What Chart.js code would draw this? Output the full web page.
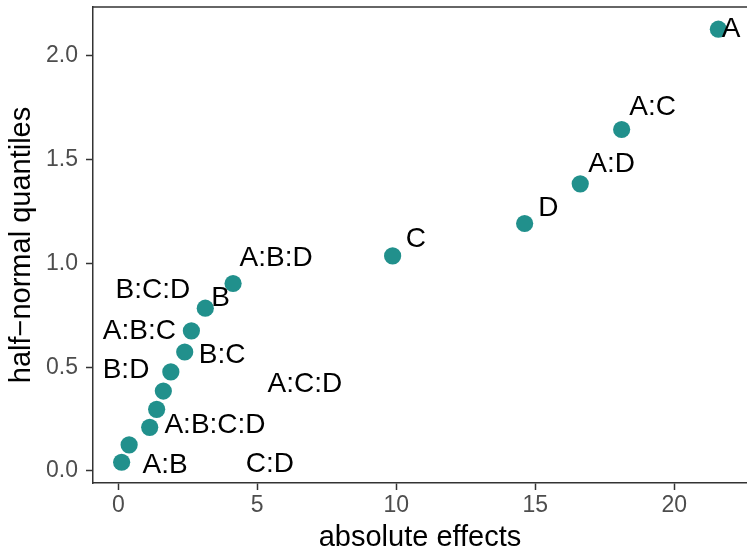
<!DOCTYPE html>
<html>
<head>
<meta charset="utf-8">
<script src="https://cdn.jsdelivr.net/npm/chart.js@4.4.1/dist/chart.umd.min.js"></script>
<style>
  html, body { margin: 0; padding: 0; background: #ffffff; }
  #wrap { width: 747px; height: 550px; }
</style>
</head>
<body>
<div id="wrap"><canvas id="halfnorm" width="747" height="550"></canvas></div>
<script>
// effects of the 2^4 design, smallest to largest
var effectNames = ["C:D", "A:B", "A:B:C:D", "A:C:D", "B:D", "B:C", "A:B:C", "B:C:D",
                   "B", "A:B:D", "C", "D", "A:D", "A:C", "A"];
var absEffects  = [0.12, 0.39, 1.13, 1.38, 1.62, 1.89, 2.39, 2.63,
                   3.13, 4.13, 9.87, 14.62, 16.62, 18.11, 21.59];
var hnQuantiles = [0.042, 0.126, 0.210, 0.297, 0.385, 0.477, 0.573, 0.675,
                   0.784, 0.903, 1.036, 1.192, 1.383, 1.645, 2.128];
var xTicks = [0, 5, 10, 15, 20];
var yTicks = [0, 0.5, 1, 1.5, 2];

// where each name sits relative to its point (px), repel-style
var labelNudge = [
    [148.3, 1.6], [36, 20], [65.3, -1.7], [148.3, -25], [-37.3, -20.7], [51.3, -16.7],
    [-45.4, -21], [-38.6, -41], [15.4, -10.4], [43.1, -25.2], [23.3, -16.9],
    [23.6, -15.7], [31.4, -20], [31, -21.7], [12.7, -0.3]
];

var points = [];
for (var i = 0; i < absEffects.length; i++) {
    points.push({x: absEffects[i], y: hnQuantiles[i]});
}

var FONT = "'Liberation Sans', Arial, Helvetica, sans-serif";
var INK = "#333333";

var effectLabels = {
    id: "effectLabels",
    afterDatasetsDraw: function (chart) {
        var ctx = chart.ctx;
        var meta = chart.getDatasetMeta(0);
        ctx.save();
        ctx.font = "28px " + FONT;
        ctx.fillStyle = "#000000";
        ctx.textAlign = "center";
        ctx.textBaseline = "middle";
        meta.data.forEach(function (pt, i) {
            ctx.fillText(effectNames[i], pt.x + labelNudge[i][0], pt.y + labelNudge[i][1]);
        });
        ctx.restore();
    }
};

// top edge of the panel box
var topRule = {
    id: "topRule",
    afterDraw: function (chart) {
        var a = chart.chartArea;
        var ctx = chart.ctx;
        ctx.save();
        ctx.strokeStyle = INK;
        ctx.lineWidth = 1.5;
        ctx.beginPath();
        ctx.moveTo(a.left - 0.75, a.top);
        ctx.lineTo(a.right, a.top);
        ctx.stroke();
        ctx.restore();
    }
};

new Chart(document.getElementById("halfnorm").getContext("2d"), {
    type: "scatter",
    data: {
        datasets: [{
            data: points,
            backgroundColor: "#21908C",
            borderWidth: 0,
            pointRadius: 8.6,
            pointHoverRadius: 8.6
        }]
    },
    options: {
        responsive: false,
        animation: false,
        layout: { autoPadding: false, padding: { top: 7, right: 0, bottom: 0, left: 0 } },
        plugins: { legend: { display: false }, tooltip: { enabled: false } },
        scales: {
            x: {
                type: "linear",
                min: -0.91,
                max: 22.62,
                afterFit: function (s) {
                    s.height = 67;
                    s.paddingLeft = 0;
                    s.paddingRight = 0;
                },
                afterBuildTicks: function (s) {
                    s.ticks = xTicks.map(function (v) { return {value: v}; });
                },
                grid: { drawOnChartArea: false, drawTicks: true, tickLength: 7, tickColor: INK, tickWidth: 1.5 },
                border: { display: true, color: INK, width: 1.5 },
                ticks: {
                    color: "#4D4D4D",
                    padding: 2,
                    font: { family: FONT, size: 23 },
                    callback: function (v) { return String(v); }
                },
                title: {
                    display: true,
                    text: "absolute effects",
                    color: "#000000",
                    font: { family: FONT, size: 29, lineHeight: 1.0 },
                    padding: { top: 0, bottom: -2 }
                }
            },
            y: {
                type: "linear",
                min: -0.058,
                max: 2.235,
                afterFit: function (s) {
                    s.width = 93;
                    s.paddingTop = 0;
                    s.paddingBottom = 0;
                },
                afterBuildTicks: function (s) {
                    s.ticks = yTicks.map(function (v) { return {value: v}; });
                },
                grid: { drawOnChartArea: false, drawTicks: true, tickLength: 7, tickColor: INK, tickWidth: 1.5 },
                border: { display: true, color: INK, width: 1.5 },
                ticks: {
                    color: "#4D4D4D",
                    padding: 8,
                    font: { family: FONT, size: 23 },
                    callback: function (v) { return v.toFixed(1); }
                },
                title: {
                    display: true,
                    text: "half\u2212normal quantiles",
                    color: "#000000",
                    font: { family: FONT, size: 29, lineHeight: 1.0 },
                    padding: { top: 7.5, bottom: 0 }
                }
            }
        }
    },
    plugins: [effectLabels, topRule]
});
</script>
</body>
</html>
